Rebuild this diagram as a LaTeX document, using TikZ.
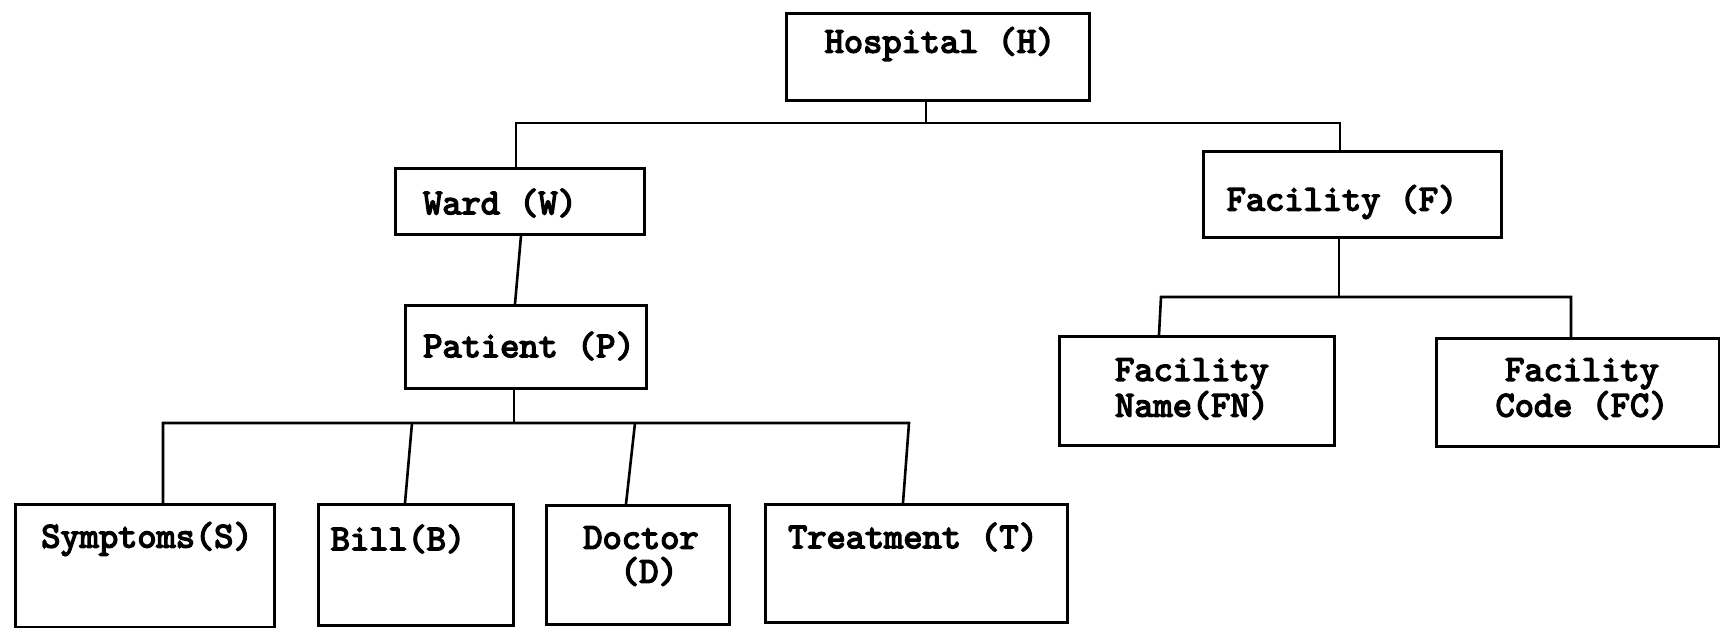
\documentclass[tikz,border=0pt]{standalone}
\usepackage{fontspec}
\newfontfamily\diagfont{lmmono10-regular.otf}[FakeBold=4]
\usetikzlibrary{calc}
\begin{document}
\begin{tikzpicture}[x=0.5pt,y=-0.5pt,
  box/.style={draw, line width=1.3pt, rectangle, inner sep=0pt, anchor=north west},
  txt/.style={font=\diagfont\fontsize{18.3}{17}\selectfont, inner sep=0pt, align=center},
  txttwo/.style={txt, font=\diagfont\fontsize{18.3}{15}\selectfont},
  conn/.style={line width=1.3pt}]
\useasboundingbox (0,0) rectangle (1720,627);
% boxes
\node[box, minimum width=151.5pt, minimum height=43.5pt] (H) at (785,12) {};
\node[box, minimum width=124.5pt, minimum height=33pt] (W) at (394,167) {};
\node[box, minimum width=149pt, minimum height=43pt] (F) at (1202,150) {};
\node[box, minimum width=120.5pt, minimum height=41.5pt] (P) at (404,304) {};
\node[box, minimum width=129.5pt, minimum height=61.5pt] (S) at (14,503) {};
\node[box, minimum width=97.5pt, minimum height=60.5pt] (B) at (317,503) {};
\node[box, minimum width=91.5pt, minimum height=59.5pt] (D) at (545,504) {};
\node[box, minimum width=151pt, minimum height=59pt] (T) at (764,503) {};
\node[box, minimum width=137.5pt, minimum height=54.5pt] (FN) at (1058,335) {};
\node[box, minimum width=141.5pt, minimum height=54pt] (FC) at (1435,337) {};
% texts
\node[txt] (tH) at (940,44) {Hospital (H)};
\node[txt] (tW) at (500,203) {Ward (W)};
\node[txt] (tF) at (1342,202) {Facility (F)};
\node[txt] (tP) at (529,346) {Patient (P)};
\node[txt] (tS) at (147,539) {Symptoms(S)};
\node[txt] (tB) at (398,539) {Bill(B)};
\node[txt] (tD) at (641,556) {Doctor\\\hspace*{8pt}(D)};
\node[txt] (tT) at (913,537) {Treatment (T)};
\node[txttwo] (tFN) at (1192,389) {Facility\\Name(FN)};
\node[txttwo] (tFC) at (1582,389) {Facility\\Code (FC)};
% junction coordinates
\coordinate (jH) at (926,123);
\coordinate (b1l) at (516,123);
\coordinate (b1r) at (1340,123);
\coordinate (jP) at (514,423);
\coordinate (b2l) at (163,423);
\coordinate (b2b) at (412,423);
\coordinate (b2d) at (635,423);
\coordinate (b2r) at (909,423);
\coordinate (jF) at (1339,297);
\coordinate (b3l) at (1161,297);
\coordinate (b3r) at (1571,297);
% connectors
\draw[conn] (jH |- H.south) -- (jH);
\draw[conn] (b1l |- W.north) -- (b1l) -- (b1r) -- (b1r |- F.north);
\draw[conn] ($(W.south west)+(127,0)$) -- ($(P.north west)+(111,0)$);
\draw[conn] (jP |- P.south) -- (jP);
\draw[conn] (b2l |- S.north) -- (b2l) -- (b2r) -- ($(T.north west)+(139,0)$);
\draw[conn] (b2b) -- ($(B.north west)+(88,0)$);
\draw[conn] (b2d) -- ($(D.north west)+(81,0)$);
\draw[conn] (jF |- F.south) -- (jF);
\draw[conn] ($(FN.north west)+(101,0)$) -- (b3l) -- (b3r) -- (b3r |- FC.north);
\end{tikzpicture}
\end{document}
